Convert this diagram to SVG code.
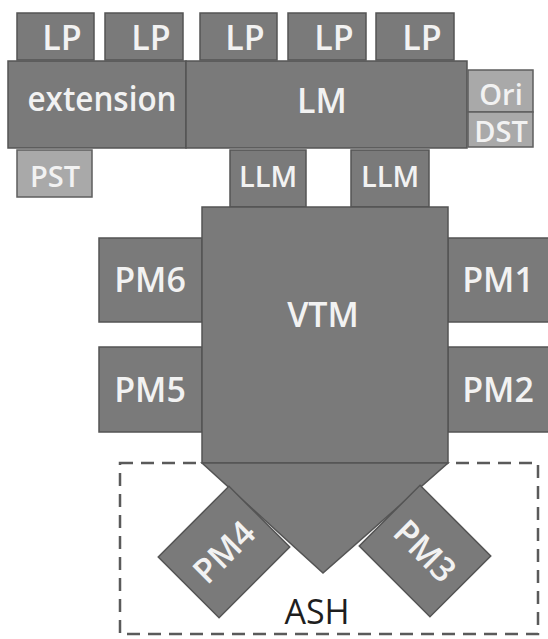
<svg xmlns="http://www.w3.org/2000/svg" width="548" height="639" viewBox="0 0 548 639">
<style>
.b{fill:#7a7a7a;stroke:#545454;stroke-width:1.5}
.l{fill:#a9a9a9;stroke:#5e5e5e;stroke-width:1.5}
.t{font-family:"Open Sans","DejaVu Sans",sans-serif;font-size:34px;font-weight:600;fill:#f2f2f2;text-anchor:middle}
.s{font-size:29px}
.d{fill:#1e1e1e;font-weight:400}
</style>
<rect width="548" height="639" fill="#ffffff"/>
<g id="ASH">
<rect x="120" y="463" width="418" height="171" fill="none" stroke="#5a5a5a" stroke-width="2.5" stroke-dasharray="13,8"/>
<text class="t d" x="317" y="624">ASH</text>
</g>
<g id="LP1"><rect class="b" x="17" y="13" width="77" height="47"/><text class="t" x="62" y="50">LP</text></g>
<g id="LP2"><rect class="b" x="105" y="13" width="78" height="47"/><text class="t" x="151" y="50">LP</text></g>
<g id="LP3"><rect class="b" x="200" y="13" width="77" height="47"/><text class="t" x="245" y="50">LP</text></g>
<g id="LP4"><rect class="b" x="288" y="13" width="78" height="47"/><text class="t" x="334" y="50">LP</text></g>
<g id="LP5"><rect class="b" x="376" y="13" width="78" height="47"/><text class="t" x="422" y="50">LP</text></g>
<g id="extension"><rect class="b" x="8" y="61" width="178" height="87"/><text class="t" x="102" y="111" textLength="149" lengthAdjust="spacingAndGlyphs">extension</text></g>
<g id="LM"><rect class="b" x="186" y="61" width="281" height="87"/><text class="t" x="322" y="113">LM</text></g>
<g id="Ori"><rect class="l" x="468" y="70" width="65" height="42"/><text class="t s" x="501" y="105">Ori</text></g>
<g id="DST"><rect class="l" x="468" y="112" width="65" height="35"/><text class="t s" x="501" y="142">DST</text></g>
<g id="PST"><rect class="l" x="17" y="150" width="75" height="47"/><text class="t s" x="55" y="187">PST</text></g>
<g id="LLM1"><rect class="b" x="230" y="150" width="76" height="57"/><text class="t s" x="268" y="187">LLM</text></g>
<g id="LLM2"><rect class="b" x="351" y="150" width="78" height="57"/><text class="t s" x="390" y="187">LLM</text></g>
<g id="PM6"><rect class="b" x="99" y="238" width="103" height="84"/><text class="t" x="150" y="292">PM6</text></g>
<g id="PM5"><rect class="b" x="99" y="347" width="103" height="85"/><text class="t" x="150" y="402">PM5</text></g>
<g id="PM1"><rect class="b" x="448" y="238" width="102" height="84"/><text class="t" x="498" y="292">PM1</text></g>
<g id="PM2"><rect class="b" x="448" y="347" width="102" height="85"/><text class="t" x="498" y="402">PM2</text></g>
<g id="VTM">
<rect class="b" x="202" y="207" width="246" height="256"/>
<polygon class="b" points="202,463 448,463 323,573"/>
<text class="t" x="323" y="327">VTM</text>
</g>
<g id="PM4" transform="translate(224,552) rotate(-45)"><rect class="b" x="-50" y="-43" width="100" height="86"/><text class="t" x="0" y="12">PM4</text></g>
<g id="PM3" transform="translate(425,551) rotate(45)"><rect class="b" x="-50" y="-43" width="100" height="86"/><text class="t" x="0" y="12">PM3</text></g>
<g id="connectors"/>
</svg>
